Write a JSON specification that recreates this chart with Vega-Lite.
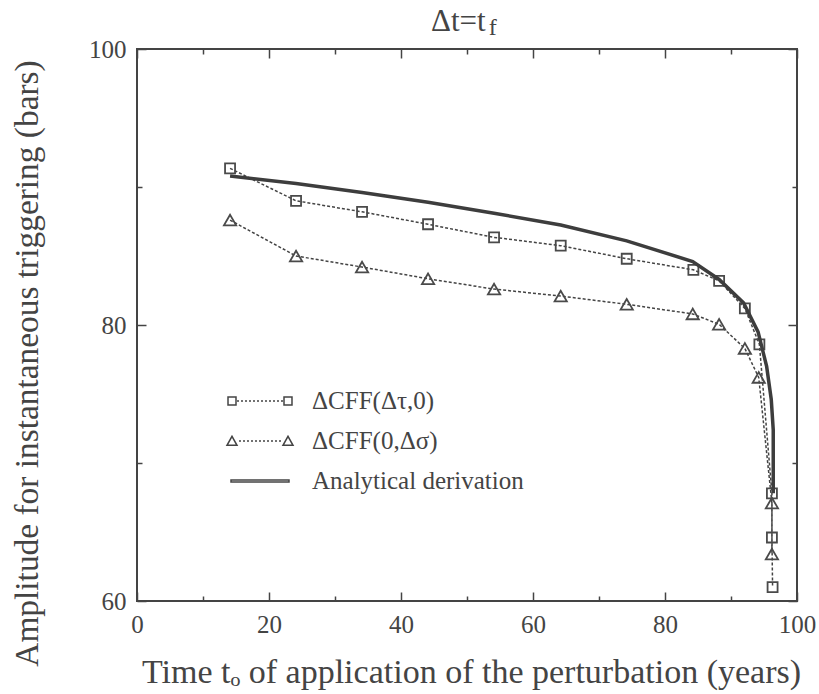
{
  "$schema": "https://vega.github.io/schema/vega-lite/v6.json",
  "autosize": "none",
  "width": 660,
  "height": 552,
  "padding": {"left": 137, "top": 49, "right": 22, "bottom": 93},
  "background": "white",
  "title": {
    "text": "Δt=t",
    "anchor": "middle",
    "align": "left",
    "dx": -36,
    "offset": -22,
    "font": "Liberation Serif",
    "fontSize": 31,
    "fontWeight": "normal",
    "color": "#444"
  },
  "datasets": {
    "pts": [
      {"series": "ΔCFF(Δτ,0)", "i": 1, "x": 14.1, "y": 91.35},
      {"series": "ΔCFF(Δτ,0)", "i": 2, "x": 24.1, "y": 89.0},
      {"series": "ΔCFF(Δτ,0)", "i": 3, "x": 34.1, "y": 88.2},
      {"series": "ΔCFF(Δτ,0)", "i": 4, "x": 44.1, "y": 87.3},
      {"series": "ΔCFF(Δτ,0)", "i": 5, "x": 54.1, "y": 86.35},
      {"series": "ΔCFF(Δτ,0)", "i": 6, "x": 64.2, "y": 85.75},
      {"series": "ΔCFF(Δτ,0)", "i": 7, "x": 74.2, "y": 84.8},
      {"series": "ΔCFF(Δτ,0)", "i": 8, "x": 84.3, "y": 84.0},
      {"series": "ΔCFF(Δτ,0)", "i": 9, "x": 88.2, "y": 83.2},
      {"series": "ΔCFF(Δτ,0)", "i": 10, "x": 92.1, "y": 81.2},
      {"series": "ΔCFF(Δτ,0)", "i": 11, "x": 94.3, "y": 78.6},
      {"series": "ΔCFF(Δτ,0)", "i": 12, "x": 96.2, "y": 67.8},
      {"series": "ΔCFF(Δτ,0)", "i": 13, "x": 96.2, "y": 64.6},
      {"series": "ΔCFF(Δτ,0)", "i": 14, "x": 96.3, "y": 61.0},
      {"series": "ΔCFF(0,Δσ)", "i": 1, "x": 14.1, "y": 87.6},
      {"series": "ΔCFF(0,Δσ)", "i": 2, "x": 24.1, "y": 85.0},
      {"series": "ΔCFF(0,Δσ)", "i": 3, "x": 34.1, "y": 84.2},
      {"series": "ΔCFF(0,Δσ)", "i": 4, "x": 44.1, "y": 83.35},
      {"series": "ΔCFF(0,Δσ)", "i": 5, "x": 54.1, "y": 82.6},
      {"series": "ΔCFF(0,Δσ)", "i": 6, "x": 64.2, "y": 82.1},
      {"series": "ΔCFF(0,Δσ)", "i": 7, "x": 74.2, "y": 81.5},
      {"series": "ΔCFF(0,Δσ)", "i": 8, "x": 84.2, "y": 80.8},
      {"series": "ΔCFF(0,Δσ)", "i": 9, "x": 88.2, "y": 80.05},
      {"series": "ΔCFF(0,Δσ)", "i": 10, "x": 92.1, "y": 78.3},
      {"series": "ΔCFF(0,Δσ)", "i": 11, "x": 94.2, "y": 76.2},
      {"series": "ΔCFF(0,Δσ)", "i": 12, "x": 96.2, "y": 67.1},
      {"series": "ΔCFF(0,Δσ)", "i": 13, "x": 96.2, "y": 63.4}
    ],
    "theory": [
      {"i": 1, "x": 14.1, "y": 90.8},
      {"i": 2, "x": 24.1, "y": 90.25},
      {"i": 3, "x": 34.1, "y": 89.6},
      {"i": 4, "x": 44.1, "y": 88.9},
      {"i": 5, "x": 54.1, "y": 88.1},
      {"i": 6, "x": 64.2, "y": 87.25},
      {"i": 7, "x": 74.2, "y": 86.1},
      {"i": 8, "x": 84.2, "y": 84.6},
      {"i": 9, "x": 88.2, "y": 83.3},
      {"i": 10, "x": 91.9, "y": 81.6},
      {"i": 11, "x": 94.1, "y": 79.5},
      {"i": 12, "x": 95.4, "y": 77.0},
      {"i": 13, "x": 96.1, "y": 74.6},
      {"i": 14, "x": 96.4, "y": 72.4},
      {"i": 15, "x": 96.4, "y": 67.8}
    ],
    "subscript": [
      {"label": "f", "x": 53.9, "y": 101.05}
    ]
  },
  "layer": [
    {
      "data": {"name": "pts"},
      "mark": {"type": "line", "color": "#444", "strokeWidth": 1.5, "strokeDash": [3, 2]},
      "encoding": {
        "x": {
          "field": "x", "type": "quantitative",
          "scale": {"domain": [0, 100], "nice": false},
          "axis": {
            "orient": "bottom",
            "values": [0, 10, 20, 30, 40, 50, 60, 70, 80, 90, 100],
            "labelExpr": "datum.value % 20 === 0 ? datum.label : ''",
            "tickSize": {"condition": {"test": "datum.value % 20 === 0", "value": -9}, "value": -5},
            "labelPadding": 20,
            "title": "Time tₒ of application of the perturbation (years)",
            "titleX": 334,
            "titleY": 81,
            "titleAlign": "center",
            "titleBaseline": "alphabetic",
            "titleFontSize": 34
          }
        },
        "y": {
          "field": "y", "type": "quantitative",
          "scale": {"domain": [60, 100], "nice": false},
          "axis": {
            "orient": "left",
            "values": [60, 70, 80, 90, 100],
            "labelExpr": "datum.value % 20 === 0 ? datum.label : ''",
            "tickSize": {"condition": {"test": "datum.value % 20 === 0", "value": -9}, "value": -5},
            "labelPadding": 20,
            "title": "Amplitude for instantaneous triggering (bars)",
            "titleX": -100,
            "titleY": 314,
            "titleAngle": 270,
            "titleAlign": "center",
            "titleBaseline": "alphabetic",
            "titleFontSize": 33.4
          }
        },
        "detail": {"field": "series"},
        "order": {"field": "i", "type": "quantitative"}
      }
    },
    {
      "data": {"name": "pts"},
      "mark": {"type": "point", "filled": false, "color": "#4a4a4a", "strokeWidth": 1.8, "opacity": 1},
      "encoding": {
        "x": {"field": "x", "type": "quantitative", "axis": null},
        "y": {"field": "y", "type": "quantitative", "axis": null},
        "shape": {
          "field": "series",
          "scale": {"domain": ["ΔCFF(Δτ,0)", "ΔCFF(0,Δσ)"], "range": ["square", "triangle-up"]},
          "legend": null
        },
        "size": {
          "field": "series",
          "scale": {"domain": ["ΔCFF(Δτ,0)", "ΔCFF(0,Δσ)"], "range": [100, 150]},
          "legend": null
        }
      }
    },
    {
      "data": {"name": "theory"},
      "mark": {"type": "line", "color": "#3d3d3d", "strokeWidth": 3.5},
      "encoding": {
        "x": {
          "field": "x", "type": "quantitative",
          "axis": {
            "orient": "top",
            "values": [0, 10, 20, 30, 40, 50, 60, 70, 80, 90, 100],
            "labels": false,
            "title": null,
            "tickSize": {"condition": {"test": "datum.value % 20 === 0", "value": -9}, "value": -5}
          }
        },
        "y": {
          "field": "y", "type": "quantitative",
          "axis": {
            "orient": "right",
            "values": [60, 70, 80, 90, 100],
            "labels": false,
            "title": null,
            "tickSize": {"condition": {"test": "datum.value % 20 === 0", "value": -9}, "value": -5}
          }
        },
        "order": {"field": "i", "type": "quantitative"}
      }
    },
    {
      "data": {"name": "subscript"},
      "mark": {"type": "text", "font": "Liberation Serif", "fontSize": 24, "color": "#444", "align": "center", "baseline": "alphabetic"},
      "encoding": {
        "x": {"field": "x", "type": "quantitative", "axis": null},
        "y": {"field": "y", "type": "quantitative", "axis": null},
        "text": {"field": "label"}
      }
    },
    {
      "data": {"name": "pts"},
      "transform": [{"filter": "datum.x < 0"}],
      "mark": {"type": "point", "filled": false, "color": "#444", "strokeWidth": 1.5},
      "encoding": {
        "x": {"field": "x", "type": "quantitative", "axis": null},
        "y": {"field": "y", "type": "quantitative", "axis": null},
        "shape": {
          "field": "series",
          "scale": {
            "domain": ["ΔCFF(Δτ,0)", "ΔCFF(0,Δσ)", "Analytical derivation"],
            "range": [
              "M-2.133,-0.267h0.533v0.533h-0.533zM1.6,-0.267h0.533v0.533h-0.533zM-1.533,0h0.133M-1.267,0h0.133M-1,0h0.133M-0.733,0h0.133M-0.467,0h0.133M-0.2,0h0.133M0.067,0h0.133M0.333,0h0.133M0.6,0h0.133M0.867,0h0.133M1.133,0h0.133M1.4,0h0.133",
              "M-2.2,0.287L-1.533,0.287L-1.867,-0.313zM1.533,0.287L2.2,0.287L1.867,-0.313zM-1.4,0h0.133M-1.133,0h0.133M-0.867,0h0.133M-0.6,0h0.133M-0.333,0h0.133M-0.067,0h0.133M0.2,0h0.133M0.467,0h0.133M0.733,0h0.133M1,0h0.133M1.267,0h0.133",
              "M-1.933,-0.06H1.933V0.06H-1.933Z"
            ]
          },
          "legend": {
            "title": null,
            "orient": "none",
            "legendX": 107,
            "legendY": 336,
            "padding": 0,
            "symbolSize": 900,
            "symbolStrokeWidth": 1.5,
            "symbolStrokeColor": "#444",
            "symbolFillColor": "transparent",
            "symbolOpacity": 1,
            "labelFont": "Liberation Serif",
            "labelFontSize": 25,
            "labelColor": "#444",
            "labelOffset": 36,
            "labelLimit": 400,
            "rowPadding": 11
          }
        }
      }
    }
  ],
  "resolve": {
    "axis": {"x": "independent", "y": "independent"},
    "scale": {"shape": "independent", "size": "independent"}
  },
  "config": {
    "view": {"stroke": "#444", "strokeWidth": 2},
    "axis": {
      "domain": false,
      "grid": false,
      "tickColor": "#444",
      "tickWidth": 1.5,
      "labelFont": "Liberation Serif",
      "labelFontSize": 25,
      "labelColor": "#444",
      "titleFont": "Liberation Serif",
      "titleFontWeight": "normal",
      "titleColor": "#444",
      "labelOverlap": false,
      "labelBound": false,
      "labelFlush": false
    }
  }
}
